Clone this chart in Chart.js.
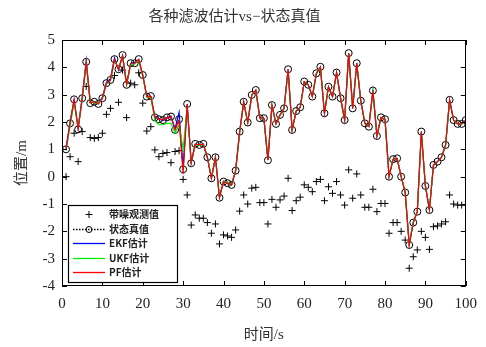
<!DOCTYPE html>
<html>
<head>
<meta charset="utf-8">
<script src="https://cdn.jsdelivr.net/npm/chart.js@4.4.1/dist/chart.umd.min.js"></script>
<style>
  html, body { margin: 0; padding: 0; background: #fff; }
  #wrap { width: 486px; height: 347px; }
</style>
</head>
<body>
<div id="wrap"><canvas id="filterChart" width="486" height="347"></canvas></div>
<script>
/* ===== data ===== */
const time = [1,2,3,4,5,6,7,8,9,10,11,12,13,14,15,16,17,18,19,20,
  21,22,23,24,25,26,27,28,29,30,31,32,33,34,35,36,37,38,39,40,
  41,42,43,44,45,46,47,48,49,50,51,52,53,54,55,56,57,58,59,60,
  61,62,63,64,65,66,67,68,69,70,71,72,73,74,75,76,77,78,79,80,
  81,82,83,84,85,86,87,88,89,90,91,92,93,94,95,96,97,98,99,100];

// 带噪观测值
const observed = [0.0,0.73,1.59,0.55,1.65,3.3,1.43,1.40,1.43,1.59,
  2.28,2.5,3.7,2.72,3.9,2.16,3.42,3.36,3.8,2.69,
  1.67,1.83,0.98,0.73,0.85,0.88,0.51,0.92,0.95,-0.1,
  -0.67,-1.77,-1.4,-1.52,-1.52,-1.68,-2.07,-1.73,-2.46,-2.13,
  -2.17,-2.22,-1.95,-1.26,-0.67,-1.0,-0.42,-0.39,-0.95,-0.95,
  -1.73,-0.83,-1.12,-0.85,-0.71,-0.06,-1.24,-0.88,-0.75,-0.3,
  -0.39,-0.55,-0.18,-0.1,-0.88,-0.37,-0.61,-0.18,-0.67,-1.04,
  0.25,-0.79,0.1,-0.67,-1.12,-1.12,-0.46,-1.28,-0.98,-0.98,
  -2.07,-1.68,-1.68,-2.0,-2.32,-3.35,-2.93,-2.68,-2.0,-2.22,
  -2.66,-1.83,-1.8,-1.73,-1.65,-0.67,-1.0,-1.04,-1.04,-1.04];

// 状态真值
const truth = [1.0,1.95,2.83,1.73,2.87,4.2,2.69,2.74,2.66,2.87,
  3.42,3.54,4.3,3.93,4.45,3.36,4.15,4.15,4.3,3.72,
  2.93,2.95,2.17,2.1,2.07,2.17,2.2,1.71,2.1,0.27,
  2.66,0.49,1.2,1.16,1.2,0.71,-0.06,0.71,-0.77,-0.18,
  -0.24,-0.3,0.22,1.65,2.74,1.98,2.99,3.17,2.14,2.14,
  0.6,2.62,1.93,2.26,2.5,3.93,1.71,2.4,2.54,3.48,
  3.36,2.93,3.78,4.02,2.32,3.29,2.93,3.81,2.87,2.07,
  4.52,2.5,4.15,2.78,1.95,1.83,3.15,1.49,2.17,2.1,
  0.0,0.64,0.67,0.0,-0.58,-2.5,-1.68,-1.28,1.65,-0.34,
  -1.22,0.43,0.55,0.71,1.16,2.81,2.07,1.93,1.93,2.07];

// EKF估计
const ekf = [1.05,2.0,2.8,1.78,2.9,4.25,2.72,2.72,2.68,2.9,
  3.45,3.58,4.35,3.9,4.42,3.4,4.12,4.18,4.28,3.7,
  2.95,2.93,2.2,2.12,2.05,2.15,2.22,1.75,2.35,0.3,
  2.62,0.52,1.18,1.17,1.18,0.7,-0.05,0.7,-0.75,-0.17,
  -0.23,-0.3,0.22,1.63,2.73,1.98,2.98,3.15,2.15,2.13,
  0.62,2.6,1.94,2.25,2.5,3.92,1.72,2.4,2.53,3.47,
  3.35,2.94,3.77,4.0,2.33,3.28,2.93,3.8,2.88,2.08,
  4.5,2.51,4.14,2.78,1.96,1.84,3.14,1.5,2.16,2.1,
  0.02,0.63,0.66,0.01,-0.57,-2.48,-1.67,-1.27,1.62,-0.33,
  -1.2,0.42,0.55,0.7,1.15,2.79,2.07,1.94,1.93,2.06];

// UKF估计
const ukf = [0.95,1.85,2.7,1.8,2.8,4.15,2.75,2.7,2.7,2.85,
  3.4,3.5,4.25,3.95,4.4,3.38,4.1,4.12,4.25,3.7,
  2.9,2.9,2.05,1.9,1.9,1.95,1.95,1.6,1.9,1.0,
  2.55,0.55,1.15,1.15,1.17,0.72,-0.04,0.69,-0.74,-0.18,
  -0.22,-0.31,0.21,1.62,2.72,1.97,2.97,3.16,2.14,2.12,
  0.63,2.6,1.93,2.24,2.49,3.91,1.73,2.39,2.53,3.46,
  3.36,2.93,3.76,4.0,2.34,3.28,2.92,3.79,2.87,2.08,
  4.49,2.52,4.13,2.77,1.96,1.84,3.13,1.51,2.16,2.09,
  0.03,0.62,0.66,0.02,-0.56,-2.47,-1.66,-1.27,1.6,-0.32,
  -1.19,0.41,0.54,0.7,1.14,2.78,2.06,1.94,1.92,2.06];

// PF估计
const pf = [1.0,1.95,2.82,1.74,2.86,4.18,2.7,2.74,2.66,2.86,
  3.42,3.53,4.28,3.93,4.43,3.37,4.14,4.15,4.29,3.72,
  2.93,2.94,2.18,2.1,2.08,2.16,2.19,1.72,2.05,0.1,
  2.64,0.5,1.19,1.16,1.19,0.71,-0.06,0.71,-0.76,-0.18,
  -0.24,-0.3,0.22,1.65,2.74,1.98,2.99,3.17,2.14,2.14,
  0.6,2.62,1.93,2.26,2.5,3.93,1.71,2.4,2.54,3.48,
  3.36,2.93,3.78,4.02,2.32,3.29,2.93,3.81,2.87,2.07,
  4.52,2.5,4.15,2.78,1.95,1.83,3.15,1.49,2.17,2.1,
  0.0,0.64,0.67,0.0,-0.58,-2.5,-1.68,-1.28,1.65,-0.34,
  -1.22,0.43,0.55,0.71,1.16,2.81,2.07,1.93,1.93,2.07];

const seriesNames = ["带噪观测值", "状态真值", "EKF估计", "UKF估计", "PF估计"];

/* ===== helpers ===== */
const toXY = arr => arr.map((v, i) => ({ x: time[i], y: v }));
const SERIF = "'Liberation Serif', 'DejaVu Serif', 'Noto Sans CJK SC', serif";
const CJK = "'Noto Sans CJK SC', 'DejaVu Sans', sans-serif";

/* ===== MATLAB-like box with inward ticks ===== */
const boxTicks = {
  id: "boxTicks",
  afterDatasetsDraw(chart) {
    const { ctx, chartArea: a, scales: { x, y } } = chart;
    const len = 5;
    ctx.save();
    ctx.strokeStyle = "#000";
    ctx.lineWidth = 1;
    ctx.beginPath();
    x.ticks.forEach(t => {
      const px = Math.round(x.getPixelForValue(t.value)) + 0.5;
      ctx.moveTo(px, a.bottom); ctx.lineTo(px, a.bottom - len);
      ctx.moveTo(px, a.top); ctx.lineTo(px, a.top + len);
    });
    y.ticks.forEach(t => {
      const py = Math.round(y.getPixelForValue(t.value)) + 0.5;
      ctx.moveTo(a.left, py); ctx.lineTo(a.left + len, py);
      ctx.moveTo(a.right, py); ctx.lineTo(a.right - len, py);
    });
    ctx.stroke();
    ctx.strokeRect(Math.round(a.left) + 0.5, Math.round(a.top) + 0.5,
      Math.round(a.right - a.left) - 1, Math.round(a.bottom - a.top) - 1);
    ctx.restore();
  }
};

/* ===== legend box in lower-left corner ===== */
const boxLegend = {
  id: "boxLegend",
  afterDraw(chart) {
    const { ctx, chartArea: a } = chart;
    const left = a.left + 6, top = a.bottom - 81, w = 109, h = 77;
    const rowY = [214, 228.5, 243, 257.5, 272].map(v => v - 205 + top);
    ctx.save();
    ctx.fillStyle = "#fff";
    ctx.fillRect(left, top, w, h);
    ctx.strokeStyle = "#000";
    ctx.lineWidth = 1.2;
    ctx.strokeRect(left + 0.5, top + 0.5, w, h);

    const x0 = left + 5, x1 = left + 37, xm = (x0 + x1) / 2;
    chart.data.datasets.forEach((ds, i) => {
      const yy = Math.round(rowY[i]) + 0.5;
      ctx.strokeStyle = ds.borderColor;
      ctx.lineWidth = 1.3;
      if (ds.showLine !== false) {
        ctx.setLineDash(ds.borderDash || []);
        ctx.beginPath(); ctx.moveTo(x0, yy); ctx.lineTo(x1, yy); ctx.stroke();
        ctx.setLineDash([]);
      }
      ctx.lineWidth = 1;
      if (ds.pointStyle === "cross") {
        ctx.beginPath();
        ctx.moveTo(xm - 3.5, yy); ctx.lineTo(xm + 3.5, yy);
        ctx.moveTo(xm, yy - 3.5); ctx.lineTo(xm, yy + 3.5);
        ctx.stroke();
      } else if (ds.pointRadius > 0) {
        ctx.beginPath(); ctx.arc(xm, yy, 3, 0, Math.PI * 2); ctx.stroke();
      }
      ctx.fillStyle = "#222";
      ctx.font = "bold 10px " + CJK;
      ctx.textBaseline = "middle";
      ctx.fillText(ds.label, x1 + 4, yy);
    });
    ctx.restore();
  }
};

/* ===== chart ===== */
new Chart(document.getElementById("filterChart"), {
  type: "line",
  data: {
    datasets: [
      { label: seriesNames[0], data: toXY(observed), showLine: false,
        pointStyle: "cross", pointRadius: 3.5, borderColor: "#000",
        pointBorderWidth: 1, order: 4 },
      { label: seriesNames[1], data: toXY(truth), borderColor: "#000",
        borderWidth: 1, borderDash: [1.5, 1.5], pointStyle: "circle",
        pointRadius: 3.5, pointBorderWidth: 1, pointBackgroundColor: "rgba(0,0,0,0)", order: 3 },
      { label: seriesNames[2], data: toXY(ekf), borderColor: "#0000ff",
        borderWidth: 1.2, pointRadius: 0, order: 2 },
      { label: seriesNames[3], data: toXY(ukf), borderColor: "#00ee00",
        borderWidth: 1.2, pointRadius: 0, order: 1 },
      { label: seriesNames[4], data: toXY(pf), borderColor: "#ff0000",
        borderWidth: 1.2, pointRadius: 0, order: 0 }
    ]
  },
  options: {
    responsive: false,
    animation: false,
    devicePixelRatio: 1,
    layout: { padding: { top: 0, right: 17, bottom: 0, left: 0 } },
    plugins: {
      legend: { display: false },
      tooltip: { enabled: false },
      title: {
        display: true,
        text: "各种滤波估计vs−状态真值",
        color: "#333",
        font: { family: SERIF, size: 15, weight: "normal", lineHeight: 1.2 },
        padding: { top: 8, bottom: 14 }
      }
    },
    scales: {
      x: {
        type: "linear", min: 0, max: 100,
        grid: { display: false, drawTicks: false },
        border: { display: false },
        ticks: { stepSize: 10, color: "#222", padding: 9,
          font: { family: SERIF, size: 15 } },
        title: { display: true, text: "时间/s", color: "#333",
          font: { family: SERIF, size: 15, lineHeight: 1.2 },
          padding: { top: 0, bottom: 3 } },
        afterFit(scale) { scale.height = 61; }
      },
      y: {
        min: -4, max: 5,
        grid: { display: false, drawTicks: false },
        border: { display: false },
        ticks: { stepSize: 1, color: "#222", padding: 7,
          font: { family: SERIF, size: 15 } },
        title: { display: true, text: "位置/m", color: "#333",
          font: { family: SERIF, size: 15, lineHeight: 1.2 },
          padding: { top: 13, bottom: 0 } },
        afterFit(scale) { scale.width = 62; }
      }
    }
  },
  plugins: [boxTicks, boxLegend]
});
</script>
</body>
</html>
